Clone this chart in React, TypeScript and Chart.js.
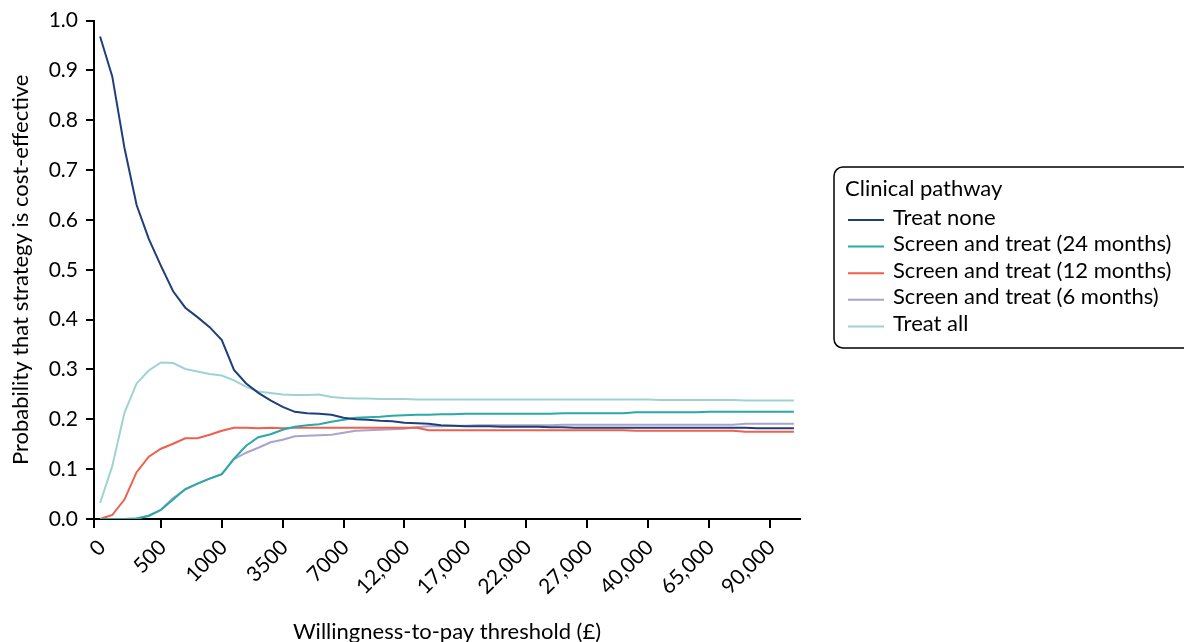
import React, { useEffect, useRef } from "react";
import { Chart, registerables } from "chart.js";

Chart.register(...registerables);

const thresholds = [
  0, 100, 200, 300, 400, 500, 600, 700, 800, 900, 1000,
  1500, 2000, 2500, 3000, 3500, 4000, 4500, 5000,
  6000, 7000, 8000, 9000, 10000, 11000, 12000, 13000, 14000, 15000, 16000, 17000,
  18000, 19000, 20000, 21000, 22000, 23000, 24000, 25000, 26000, 27000, 28000, 29000, 30000,
  35000, 40000, 45000, 50000, 55000, 60000, 65000, 70000, 75000, 80000, 85000, 90000, 95000, 100000,
];

const treatNone = [
  0.968, 0.888, 0.745, 0.630, 0.562, 0.508, 0.457, 0.424, 0.405, 0.385,
  0.359, 0.299, 0.272, 0.253, 0.238, 0.225, 0.215, 0.212, 0.211, 0.209,
  0.203, 0.200, 0.199, 0.197, 0.196, 0.193, 0.192, 0.191, 0.188, 0.187,
  0.186, 0.186, 0.186, 0.185, 0.185, 0.185, 0.185, 0.184, 0.184, 0.183,
  0.183, 0.183, 0.183, 0.183, 0.183, 0.183, 0.183, 0.183, 0.183, 0.183,
  0.183, 0.183, 0.183, 0.183, 0.182, 0.182, 0.182, 0.182,
];

const screen24 = [
  0, 0, 0, 0.001, 0.006, 0.018, 0.039, 0.060, 0.071, 0.081,
  0.090, 0.121, 0.147, 0.164, 0.170, 0.179, 0.185, 0.188, 0.190, 0.195,
  0.199, 0.203, 0.204, 0.205, 0.207, 0.208, 0.209, 0.209, 0.210, 0.210,
  0.211, 0.211, 0.211, 0.211, 0.211, 0.211, 0.211, 0.211, 0.212, 0.212,
  0.212, 0.212, 0.212, 0.212, 0.214, 0.214, 0.214, 0.214, 0.214, 0.214,
  0.215, 0.215, 0.215, 0.215, 0.215, 0.215, 0.215, 0.215,
];

const screen12 = [
  0, 0.008, 0.039, 0.094, 0.125, 0.141, 0.151, 0.162, 0.162, 0.169,
  0.177, 0.183, 0.183, 0.182, 0.183, 0.182, 0.183, 0.183, 0.183, 0.183,
  0.183, 0.183, 0.183, 0.183, 0.183, 0.183, 0.183, 0.178, 0.178, 0.178,
  0.178, 0.178, 0.178, 0.178, 0.178, 0.178, 0.178, 0.178, 0.178, 0.178,
  0.178, 0.178, 0.178, 0.178, 0.177, 0.177, 0.177, 0.177, 0.177, 0.177,
  0.177, 0.177, 0.177, 0.175, 0.175, 0.175, 0.175, 0.175,
];

const screen6 = [
  0, 0, 0, 0.001, 0.007, 0.019, 0.042, 0.059, 0.071, 0.081,
  0.090, 0.120, 0.133, 0.143, 0.154, 0.159, 0.166, 0.167, 0.168, 0.169,
  0.173, 0.177, 0.178, 0.179, 0.180, 0.181, 0.184, 0.186, 0.186, 0.187,
  0.187, 0.188, 0.188, 0.188, 0.188, 0.188, 0.188, 0.188, 0.189, 0.189,
  0.189, 0.189, 0.189, 0.189, 0.189, 0.189, 0.189, 0.189, 0.189, 0.189,
  0.189, 0.189, 0.189, 0.191, 0.191, 0.191, 0.191, 0.191,
];

const treatAll = [
  0.032, 0.106, 0.213, 0.272, 0.298, 0.314, 0.313, 0.301, 0.296, 0.291,
  0.288, 0.278, 0.265, 0.256, 0.253, 0.250, 0.249, 0.249, 0.250, 0.245,
  0.243, 0.242, 0.242, 0.241, 0.241, 0.241, 0.240, 0.240, 0.240, 0.240,
  0.240, 0.240, 0.240, 0.240, 0.240, 0.240, 0.240, 0.240, 0.240, 0.240,
  0.240, 0.240, 0.240, 0.240, 0.240, 0.240, 0.239, 0.239, 0.239, 0.239,
  0.239, 0.239, 0.239, 0.238, 0.238, 0.238, 0.238, 0.238,
];

const seriesNames = [
  "Treat none",
  "Screen and treat (24 months)",
  "Screen and treat (12 months)",
  "Screen and treat (6 months)",
  "Treat all",
];
const seriesColors = ["#1f3e7c", "#2aa9a8", "#ef5f4e", "#a9a4c9", "#9fd3d3"];
const seriesValues = [treatNone, screen24, screen12, screen6, treatAll];

const legendTitle = "Clinical pathway";
const xTitle = "Willingness-to-pay threshold (£)";
const yTitle = "Probability that strategy is cost-effective";

const FONT = "Lato";

function formatThreshold(v: number): string {
  return v >= 10000 ? v.toLocaleString("en-GB") : String(v);
}

const legendPlugin = {
  id: "boxLegend",
  afterDraw(chart: any) {
    const ctx = chart.ctx;
    const area = chart.chartArea;
    ctx.save();
    // small tick at axis origin
    ctx.strokeStyle = "#000";
    ctx.lineWidth = 2;
    ctx.beginPath();
    ctx.moveTo(area.left, area.bottom);
    ctx.lineTo(area.left, area.bottom + 9);
    ctx.stroke();

    // legend box
    const bx = 834, by = 167, bw = 400, bh = 181;
    ctx.lineWidth = 1.5;
    ctx.beginPath();
    (ctx as any).roundRect(bx, by, bw, bh, 9);
    ctx.stroke();

    ctx.fillStyle = "#000";
    ctx.textBaseline = "alphabetic";
    ctx.textAlign = "left";
    ctx.font = `22px ${FONT}`;
    ctx.fillText(legendTitle, 845, 196);
    seriesNames.forEach((name, i) => {
      const y = 220 + i * 26.6;
      ctx.strokeStyle = seriesColors[i];
      ctx.lineWidth = 2;
      ctx.beginPath();
      ctx.moveTo(848, y);
      ctx.lineTo(884, y);
      ctx.stroke();
      ctx.fillStyle = "#000";
      ctx.fillText(name, 893, y + 4.5);
    });
    ctx.restore();
  },
};

export default function App() {
  const canvasRef = useRef<HTMLCanvasElement | null>(null);

  useEffect(() => {
    if (!canvasRef.current) return;
    const chart = new Chart(canvasRef.current, {
      type: "line",
      data: {
        labels: thresholds.map(formatThreshold),
        datasets: seriesNames.map((name, i) => ({
          label: name,
          data: seriesValues[i],
          borderColor: seriesColors[i],
          backgroundColor: seriesColors[i],
          borderWidth: 2,
          pointRadius: 0,
          tension: 0,
          fill: false,
        })),
      },
      options: {
        responsive: false,
        animation: false,
        devicePixelRatio: 1,
        layout: { padding: { top: 20, right: 384, left: 0, bottom: 0 } },
        plugins: {
          legend: { display: false },
          tooltip: { enabled: false },
        },
        scales: {
          x: {
            type: "category",
            offset: true,
            grid: {
              drawOnChartArea: false,
              drawTicks: true,
              tickLength: 9,
              lineWidth: 2,
              tickColor: (c: any) => (c.index === 0 ? "rgba(0,0,0,0)" : "#000"),
            },
            border: { display: true, color: "#000", width: 2 },
            ticks: {
              autoSkip: false,
              maxRotation: 45,
              minRotation: 45,
              color: "#000",
              padding: 7,
              labelOffset: 2,
              font: { family: FONT, size: 21 },
            },
            afterBuildTicks: (s: any) => {
              s.ticks = s.ticks.filter((t: any) => t.value % 5 === 0);
            },
            afterFit: (s: any) => {
              s.height = 123;
            },
            title: {
              display: true,
              text: xTitle,
              color: "#000",
              font: { family: FONT, size: 22 },
              padding: { top: 0, bottom: -3 },
            },
          },
          y: {
            min: 0,
            max: 1,
            grid: {
              drawOnChartArea: false,
              drawTicks: true,
              tickLength: 8,
              lineWidth: 2,
              tickColor: "#000",
            },
            border: { display: true, color: "#000", width: 2 },
            ticks: {
              stepSize: 0.1,
              color: "#000",
              padding: 8,
              font: { family: FONT, size: 21 },
              callback: (v: any) => Number(v).toFixed(1),
            },
            afterFit: (s: any) => {
              s.width = 94;
            },
            title: {
              display: true,
              text: yTitle,
              color: "#000",
              font: { family: FONT, size: 22 },
              padding: { top: 8, bottom: 0 },
            },
          },
        },
      },
      plugins: [legendPlugin],
    });
    return () => chart.destroy();
  }, []);

  return (
    <div style={{ position: "absolute", left: 0, top: 0, width: 1184, height: 642 }}>
      <canvas ref={canvasRef} width={1184} height={642} style={{ width: 1184, height: 642 }} />
    </div>
  );
}
